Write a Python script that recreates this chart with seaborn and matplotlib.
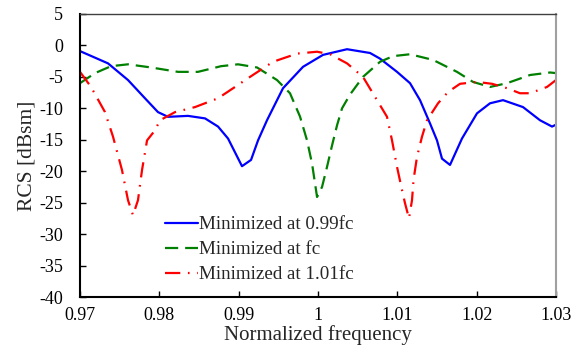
import numpy as np
import pandas as pd
import matplotlib
matplotlib.use("Agg")
import matplotlib.pyplot as plt
import seaborn as sns

# ---- data ----
blue_x = [0.97000, 0.97353, 0.97605, 0.97819, 0.97983, 0.98109, 0.98361, 0.98576, 0.98740,
          0.98866, 0.99042, 0.99156, 0.99244, 0.99357, 0.99559, 0.99811, 1.00063, 1.00366,
          1.00656, 1.00782, 1.00996, 1.01160, 1.01286, 1.01412, 1.01500, 1.01563, 1.01664,
          1.01815, 1.02004, 1.02168, 1.02332, 1.02584, 1.02799, 1.02950, 1.03000]
blue_y = [-0.9, -2.85, -5.5, -8.4, -10.6, -11.35, -11.2, -11.6, -12.9,
          -14.8, -19.2, -18.2, -15.1, -11.9, -6.8, -3.4, -1.5, -0.6,
          -1.2, -2.1, -4.2, -6.0, -8.7, -12.4, -15.1, -18.0, -19.0,
          -14.8, -10.8, -9.2, -8.7, -9.8, -11.9, -12.9, -12.6]

green_x = [0.97000, 0.97189, 0.97391, 0.97605, 0.97895, 0.98235, 0.98487, 0.98777, 0.98992,
           0.99231, 0.99483, 0.99647, 0.99773, 0.99862, 0.99925, 0.99962, 0.99988, 1.00051,
           1.00114, 1.00177, 1.00240, 1.00303, 1.00404, 1.00567, 1.00782, 1.00946, 1.01160,
           1.01450, 1.01752, 1.01954, 1.02168, 1.02383, 1.02673, 1.02925, 1.03000]
green_y = [-6.0, -4.4, -3.3, -3.0, -3.5, -4.2, -4.2, -3.3, -3.0,
           -3.5, -5.5, -7.6, -11.3, -15.1, -18.8, -21.9, -24.1, -22.5,
           -19.3, -15.9, -12.7, -10.0, -7.8, -5.0, -2.6, -1.7, -1.4,
           -2.3, -4.2, -5.8, -6.6, -6.0, -4.7, -4.3, -4.4]

red_x = [0.97000, 0.97139, 0.97315, 0.97416, 0.97529, 0.97605, 0.97668, 0.97731, 0.97782,
         0.97845, 0.97945, 0.98008, 0.98198, 0.98450, 0.98740, 0.98954, 0.99143, 0.99433,
         0.99735, 0.99988, 1.00152, 1.00366, 1.00567, 1.00744, 1.00870, 1.00933, 1.00996,
         1.01059, 1.01097, 1.01147, 1.01185, 1.01204, 1.01248, 1.01311, 1.01374, 1.01513,
         1.01639, 1.01790, 1.02004, 1.02194, 1.02383, 1.02546, 1.02673, 1.02887, 1.03000]
red_y = [-4.2, -6.6, -10.6, -14.5, -19.8, -24.6, -27.0, -24.6, -19.8,
         -15.1, -13.5, -11.9, -10.6, -9.8, -8.4, -6.6, -5.0, -2.6,
         -1.3, -1.0, -1.4, -2.85, -5.0, -8.7, -11.35, -15.1, -19.3,
         -23.0, -25.1, -27.5, -24.6, -21.4, -17.7, -14.5, -11.9, -9.2,
         -7.4, -6.1, -5.8, -6.1, -6.8, -7.6, -7.6, -6.6, -5.5]

labels = ["Minimized at 0.99fc", "Minimized at fc", "Minimized at 1.01fc"]
x_ticks = [0.97, 0.98, 0.99, 1.00, 1.01, 1.02, 1.03]
x_ticklabels = ["0.97", "0.98", "0.99", "1", "1.01", "1.02", "1.03"]
y_ticks = [5, 0, -5, -10, -15, -20, -25, -30, -35, -40]

sns.set_style("white")
plt.rcParams['font.family'] = ['Liberation Serif', 'DejaVu Serif']
plt.rcParams['axes.unicode_minus'] = False
plt.rcParams['lines.scale_dashes'] = False

fig = plt.figure(figsize=(5.88, 3.61), dpi=100)
ax = fig.add_axes([80/588, 1 - 297/361, (556-80)/588, (297-14)/361])

df_b = pd.DataFrame({"x": blue_x, "y": blue_y})
df_g = pd.DataFrame({"x": green_x, "y": green_y})
df_r = pd.DataFrame({"x": red_x, "y": red_y})

lw = 1.6
sns.lineplot(data=df_b, x="x", y="y", ax=ax, color="#0000ff", lw=lw, label=labels[0])
sns.lineplot(data=df_g, x="x", y="y", ax=ax, color="#008000", lw=lw, label=labels[1])
sns.lineplot(data=df_r, x="x", y="y", ax=ax, color="#ff0000", lw=lw, label=labels[2])
ax.lines[1].set_dashes([9.5, 5])
ax.lines[2].set_dashes([11, 5.5, 1.2, 5.5])

ax.set_xlim(0.97, 1.03)
ax.set_ylim(-40, 5)
ax.set_xticks(x_ticks)
ax.set_xticklabels(x_ticklabels)
ax.set_yticks(y_ticks)
ax.tick_params(direction='in', length=4, width=1, labelsize=13, colors='black',
               bottom=True, left=True, top=False, right=False)
ax.tick_params(axis='x', pad=7)
ax.tick_params(axis='y', pad=12)
ax.set_xlabel("Normalized frequency", fontsize=15, labelpad=1)
ax.set_ylabel("RCS [dBsm]", fontsize=15.5, labelpad=2)

for s in ["left", "bottom"]:
    ax.spines[s].set_color("black")
    ax.spines[s].set_linewidth(1.5)
ax.spines["top"].set_color("#404040")
ax.spines["top"].set_linewidth(1.0)
ax.spines["right"].set_color("#a0a0a0")
ax.spines["right"].set_linewidth(1.5)

leg = ax.legend(loc="upper left", bbox_to_anchor=((165-80)/476, (297-216)/283), frameon=False,
                fontsize=13.7, handlelength=1.74, handletextpad=0.05, labelspacing=0.4,
                borderaxespad=0, borderpad=0)

fig.savefig("out.png", dpi=100)
